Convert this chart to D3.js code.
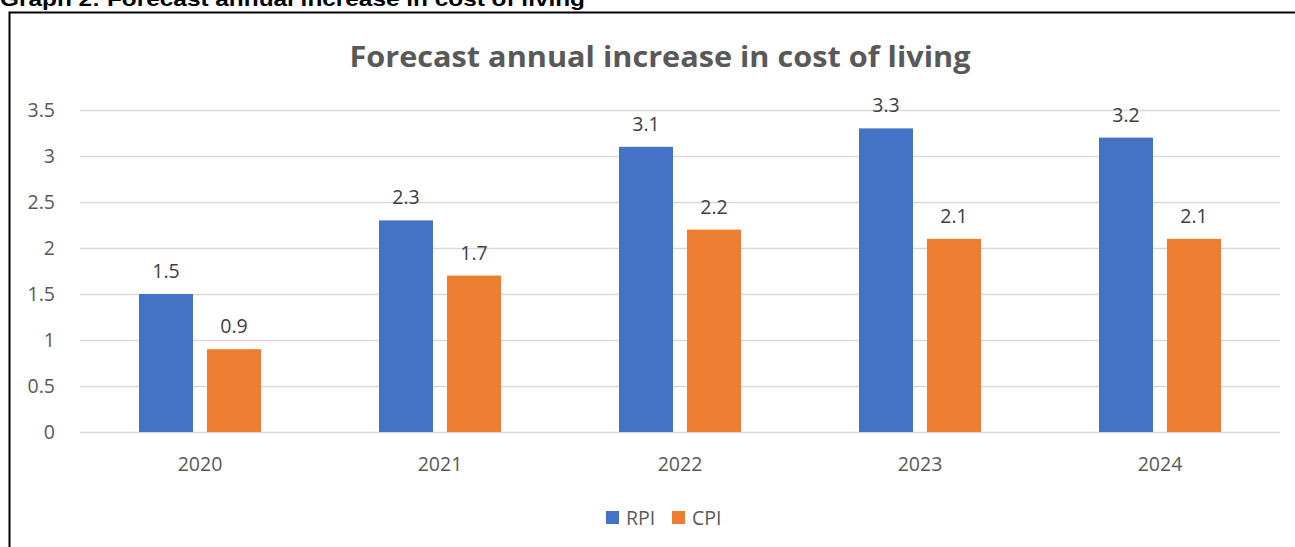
<!DOCTYPE html>
<html><head><meta charset="utf-8">
<script src="https://cdn.jsdelivr.net/npm/d3@7"></script>
<style>body{margin:0;background:#fff;}svg{display:block;font-family:"Open Sans","Liberation Sans",sans-serif;}</style>
</head><body>
<svg id="c" width="1295" height="547"></svg>
<script>
const categories = ["2020","2021","2022","2023","2024"];
const seriesNames = ["RPI","CPI"];
const rpi = [1.5,2.3,3.1,3.3,3.2];
const cpi = [0.9,1.7,2.2,2.1,2.1];
const yTicks = [0,0.5,1,1.5,2,2.5,3,3.5];
const colors = ["#4472C4","#ED7D31"];

const svg = d3.select("#c");
// outer caption (clipped at top, as in the reference)
svg.append("text").attr("x",0).attr("y",6).attr("font-weight","bold").attr("font-size",21)
  .attr("font-family","'Liberation Sans',Arial,sans-serif").attr("fill","#000")
  .attr("textLength",585).attr("lengthAdjust","spacingAndGlyphs")
  .text("Graph 2: Forecast annual increase in cost of living");
// frame
svg.append("path").attr("d","M1297,12.5 H9.5 V549").attr("fill","none").attr("stroke","#000").attr("stroke-width",2);

const x = d3.scaleBand().domain(categories).range([80,1280]);
const y = d3.scaleLinear().domain([0,3.5]).range([432,110]);
const xs = d3.scaleBand().domain(seriesNames).range([0,122]).paddingInner(14/68);
const fs = 19.5;

svg.append("text").attr("x",660).attr("y",67).attr("text-anchor","middle").attr("font-weight","bold")
  .attr("font-size",29).attr("fill","#595959").attr("textLength",621).attr("lengthAdjust","spacingAndGlyphs")
  .text("Forecast annual increase in cost of living");

const ya = svg.append("g").attr("transform","translate(80,0)")
  .call(d3.axisLeft(y).tickValues(yTicks).tickSize(-1200).tickFormat(d=>String(d)).tickPadding(25));
ya.select(".domain").remove();
ya.selectAll("line").attr("stroke","#d9d9d9").attr("stroke-width",1.3);
ya.selectAll("text").attr("font-size",fs).attr("fill","#595959").attr("font-family","'Open Sans',sans-serif");

const xa = svg.append("g").attr("transform","translate(0,432)")
  .call(d3.axisBottom(x).tickSize(0).tickPadding(25));
xa.select(".domain").remove();
xa.selectAll("text").attr("font-size",fs).attr("fill","#595959").attr("font-family","'Open Sans',sans-serif");

const data = [rpi,cpi];
seriesNames.forEach((s,si)=>{
  const g = svg.append("g");
  g.selectAll("rect").data(categories).enter().append("rect")
    .attr("x",c=>x(c)+x.bandwidth()/2-61+xs(s)).attr("width",xs.bandwidth())
    .attr("y",(c,i)=>y(data[si][i])).attr("height",(c,i)=>y(0)-y(data[si][i]))
    .attr("fill",colors[si]);
  g.selectAll("text").data(categories).enter().append("text")
    .attr("x",c=>x(c)+x.bandwidth()/2-61+xs(s)+xs.bandwidth()/2)
    .attr("y",(c,i)=>y(data[si][i])-16).attr("text-anchor","middle")
    .attr("font-size",fs).attr("fill","#404040")
    .text((c,i)=>data[si][i]);
});

// legend
const lg = svg.append("g");
const lx = [606,672];
seriesNames.forEach((s,i)=>{
  lg.append("rect").attr("x",lx[i]).attr("y",511).attr("width",13).attr("height",13).attr("fill",colors[i]);
  lg.append("text").attr("x",lx[i]+20).attr("y",525).attr("font-size",fs).attr("fill","#595959").text(s);
});
</script>
</body></html>
